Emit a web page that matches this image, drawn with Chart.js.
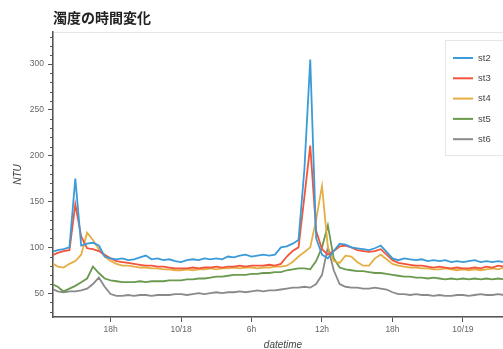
<!DOCTYPE html>
<html>
<head>
<meta charset="utf-8">
<script src="https://cdn.jsdelivr.net/npm/chart.js@4/dist/chart.umd.min.js"></script>
<style>
    html, body { margin: 0; padding: 0; background: #fff; overflow: hidden; }
    #wrap { width: 516px; height: 352px; }
</style>
</head>
<body>
<div id="wrap"><canvas id="turbidityChart" width="516" height="352"></canvas></div>
<script>
// Data (hours from 10/18 00:00, one reading every 30 min starting 10/17 13:00)
const startHour = -11;
const stepHour = 0.5;

const seriesNames = ['st2', 'st3', 'st4', 'st5', 'st6'];
const seriesColors = ['#3b9bd8', '#f2553b', '#e5ae45', '#6b9a4f', '#8a8a8a'];

const st2 = [95, 97, 98, 100, 175, 102, 104, 105, 102, 90,
    88, 87, 88, 86, 87, 89, 91, 87, 88, 86,
    87, 85, 84, 86, 87, 86, 88, 87, 88, 87,
    90, 89, 91, 92, 90, 91, 92, 91, 92, 100,
    101, 104, 108, 185, 305, 110, 92, 88, 96, 104,
    103, 100, 99, 98, 97, 99, 102, 95, 88, 86,
    88, 87, 86, 87, 85, 86, 85, 86, 84, 85,
    84, 85, 86, 84, 85, 84, 85, 84, 85];
const st3 = [91, 94, 96, 97, 147, 112, 99, 98, 96, 92,
    88, 85, 84, 83, 82, 81, 80, 80, 79, 79,
    78, 77, 77, 77, 78, 77, 78, 78, 79, 78,
    79, 79, 80, 79, 80, 80, 80, 81, 80, 82,
    90, 96, 100, 155, 211, 118, 98, 92, 96, 101,
    102, 100, 97, 96, 95, 96, 98, 92, 86, 83,
    82, 81, 80, 80, 79, 78, 79, 78, 77, 78,
    77, 77, 78, 77, 79, 78, 80, 79, 80];
const st4 = [83, 79, 78, 82, 85, 92, 116, 108, 98, 90,
    85, 82, 80, 80, 79, 78, 78, 77, 77, 76,
    76, 75, 75, 76, 75, 76, 76, 77, 76, 77,
    77, 78, 77, 78, 78, 77, 78, 78, 79, 79,
    80, 84, 90, 95, 100, 130, 167, 100, 85, 83,
    91, 90, 84, 80, 80, 88, 92, 87, 82, 80,
    79, 78, 78, 77, 77, 76, 76, 77, 76, 75,
    76, 75, 76, 75, 76, 77, 76, 78, 77];
const st5 = [60, 57, 52, 55, 58, 62, 66, 79, 72, 66,
    64, 63, 62, 62, 62, 63, 62, 63, 63, 63,
    64, 64, 64, 65, 65, 66, 66, 67, 68, 68,
    69, 70, 70, 70, 71, 71, 72, 72, 73, 73,
    75, 76, 77, 77, 76, 85, 100, 124, 88, 78,
    76, 75, 74, 74, 73, 72, 72, 71, 70, 69,
    68, 68, 67, 67, 66, 67, 66, 65, 66, 65,
    66, 65, 66, 65, 66, 65, 66, 65, 66];
const st6 = [55, 52, 51, 52, 52, 53, 55, 60, 67, 57,
    49, 47, 47, 48, 47, 48, 48, 47, 48, 48,
    48, 49, 49, 48, 49, 50, 49, 50, 51, 50,
    51, 51, 52, 51, 52, 53, 52, 53, 53, 54,
    55, 56, 56, 57, 56, 60, 70, 100, 75, 60,
    57, 56, 56, 55, 55, 56, 55, 54, 51, 49,
    49, 48, 49, 48, 48, 47, 48, 47, 47, 48,
    48, 47, 48, 49, 48, 48, 49, 48, 49];

const xTickValues = [-6, 0, 6, 12, 18, 24];
const xTickLabels = ['18h', '10/18', '6h', '12h', '18h', '10/19'];
const yMinorTicks = [30, 40, 60, 70, 80, 90, 110, 120, 130, 140, 160, 170, 180, 190,
    210, 220, 230, 240, 260, 270, 280, 290, 310, 320, 330];

const allSeries = [st2, st3, st4, st5, st6];
const tickFont = { family: 'Liberation Sans', size: 8.5 };

function buildDatasets() {
    return allSeries.map((values, k) => ({
        label: seriesNames[k],
        data: values.map((v, i) => ({ x: startHour + i * stepHour, y: v })),
        borderColor: seriesColors[k],
        borderWidth: 1.8,
        pointRadius: 0,
        tension: 0,
        fill: false
    }));
}

// plot frame + white background
const framePlugin = {
    id: 'frame',
    beforeDraw(chart) {
        const { ctx, chartArea: a } = chart;
        ctx.save();
        ctx.fillStyle = '#fff';
        ctx.fillRect(0, 0, chart.width, chart.height);
        ctx.strokeStyle = '#e6e6e6';
        ctx.lineWidth = 1;
        ctx.strokeRect(a.left + 0.5, a.top + 0.5, a.right - a.left, a.bottom - a.top);
        ctx.restore();
    }
};

// title, minor ticks, legend box
const decorPlugin = {
    id: 'decor',
    afterDraw(chart) {
        const { ctx, chartArea: a } = chart;
        const yScale = chart.scales.y;
        ctx.save();

        ctx.fillStyle = '#222';
        ctx.font = 'bold 14px "Noto Sans CJK JP"';
        ctx.textBaseline = 'middle';
        ctx.textAlign = 'left';
        ctx.fillText('濁度の時間変化', 53, 18);

        ctx.strokeStyle = '#555';
        ctx.lineWidth = 1;
        yMinorTicks.forEach(v => {
            const py = Math.round(yScale.getPixelForValue(v)) + 0.5;
            ctx.beginPath();
            ctx.moveTo(a.left - 3, py);
            ctx.lineTo(a.left, py);
            ctx.stroke();
        });

        const bx = 445, by = 40, bw = 68, bh = 115;
        ctx.fillStyle = 'rgba(255,255,255,0.95)';
        ctx.fillRect(bx, by, bw, bh);
        ctx.strokeStyle = '#e6e6e6';
        ctx.strokeRect(bx + 0.5, by + 0.5, bw, bh);
        ctx.font = '9.5px "Liberation Sans"';
        chart.data.datasets.forEach((ds, k) => {
            const cy = 58 + k * 20.3;
            ctx.strokeStyle = ds.borderColor;
            ctx.lineWidth = 2;
            ctx.beginPath();
            ctx.moveTo(453, cy);
            ctx.lineTo(473, cy);
            ctx.stroke();
            ctx.fillStyle = '#444';
            ctx.fillText(ds.label, 478, cy);
        });
        ctx.restore();
    }
};

function initChart() {
    const ctx = document.getElementById('turbidityChart').getContext('2d');
    new Chart(ctx, {
        type: 'line',
        data: { datasets: buildDatasets() },
        options: {
            responsive: false,
            animation: false,
            devicePixelRatio: 1,
            layout: { padding: { top: 32, right: 3, left: 0, bottom: 0 } },
            plugins: { legend: { display: false }, tooltip: { enabled: false } },
            scales: {
                x: {
                    type: 'linear',
                    min: -10.9,
                    max: 28.26,
                    afterBuildTicks: scale => { scale.ticks = xTickValues.map(v => ({ value: v })); },
                    afterFit: scale => { scale.height = 35; },
                    ticks: {
                        autoSkip: false,
                        maxRotation: 0,
                        padding: 3,
                        color: '#666',
                        font: tickFont,
                        callback: v => xTickLabels[xTickValues.indexOf(v)]
                    },
                    grid: { drawOnChartArea: false, drawTicks: true, tickLength: 5, tickColor: '#555', tickWidth: 1 },
                    border: { color: '#555', width: 1.5 },
                    title: {
                        display: true,
                        text: 'datetime',
                        color: '#444',
                        font: { family: 'Liberation Sans', size: 10, style: 'italic' },
                        padding: { top: 0, bottom: 1 }
                    }
                },
                y: {
                    min: 24,
                    max: 335,
                    afterFit: scale => { scale.width = 53; },
                    ticks: {
                        stepSize: 50,
                        includeBounds: false,
                        padding: 4,
                        color: '#666',
                        font: tickFont
                    },
                    grid: { drawOnChartArea: false, drawTicks: true, tickLength: 5, tickColor: '#555', tickWidth: 1 },
                    border: { color: '#555', width: 1.5 },
                    title: {
                        display: true,
                        text: 'NTU',
                        color: '#444',
                        font: { family: 'Liberation Sans', size: 10, style: 'italic' },
                        padding: { top: 12, bottom: 0 }
                    }
                }
            }
        },
        plugins: [framePlugin, decorPlugin]
    });
}

document.addEventListener('DOMContentLoaded', initChart);
</script>
</body>
</html>
